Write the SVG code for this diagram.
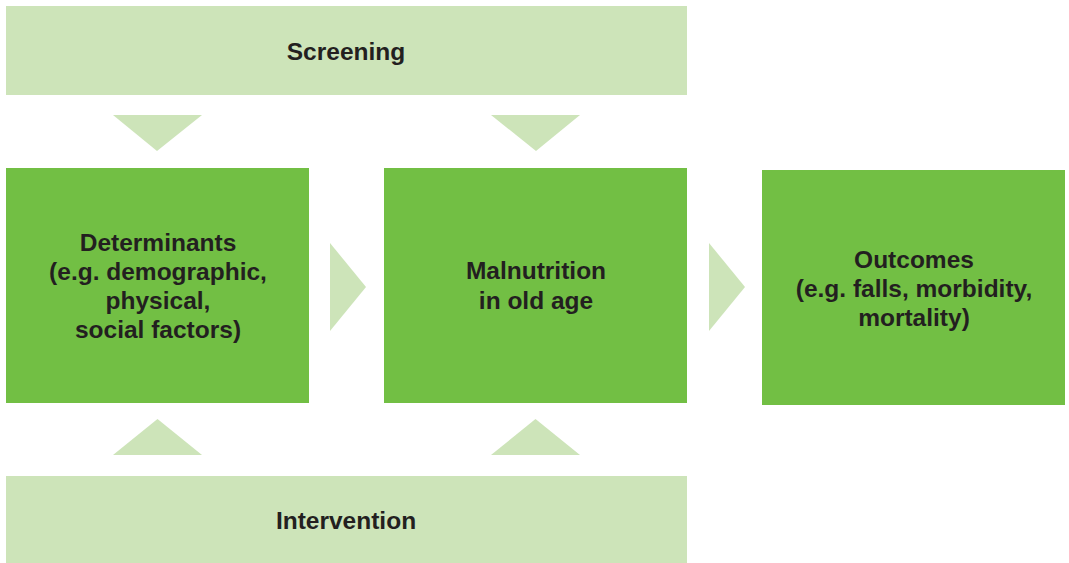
<svg xmlns="http://www.w3.org/2000/svg" width="1069" height="563" viewBox="0 0 1069 563">
<style>
.light{fill:#cde4b9}
.dark{fill:#72bf44}
.arrow{fill:#cde4b9}
text{font-family:"Liberation Sans",Arial,sans-serif;font-weight:bold;font-size:24.5px;fill:#231f20;text-anchor:middle}
</style>
<rect width="1069" height="563" fill="#ffffff"/>
<g id="screening">
<rect class="light" x="6" y="6" width="681" height="89"/>
<text x="346" y="60">Screening</text>
</g>
<g id="determinants">
<rect class="dark" x="6" y="168" width="303" height="235"/>
<text x="158" y="251">Determinants</text>
<text x="158" y="280">(e.g. demographic,</text>
<text x="158" y="309">physical,</text>
<text x="158" y="338">social factors)</text>
</g>
<g id="malnutrition">
<rect class="dark" x="384" y="168" width="303" height="235"/>
<text x="536" y="279">Malnutrition</text>
<text x="536" y="309">in old age</text>
</g>
<g id="outcomes">
<rect class="dark" x="762" y="170" width="303" height="235"/>
<text x="914" y="268">Outcomes</text>
<text x="914" y="297">(e.g. falls, morbidity,</text>
<text x="914" y="326">mortality)</text>
</g>
<g id="intervention">
<rect class="light" x="6" y="476" width="681" height="87"/>
<text x="346" y="529">Intervention</text>
</g>
<g id="connectors">
<polygon class="arrow" points="113,115 202,115 157,151"/>
<polygon class="arrow" points="491,115 580,115 536,151"/>
<polygon class="arrow" points="330,243 366,287 330,331"/>
<polygon class="arrow" points="709,243 745,287 709,331"/>
<polygon class="arrow" points="113,455 202,455 157.5,419"/>
<polygon class="arrow" points="491,455 580,455 535.5,419"/>
</g>
</svg>
